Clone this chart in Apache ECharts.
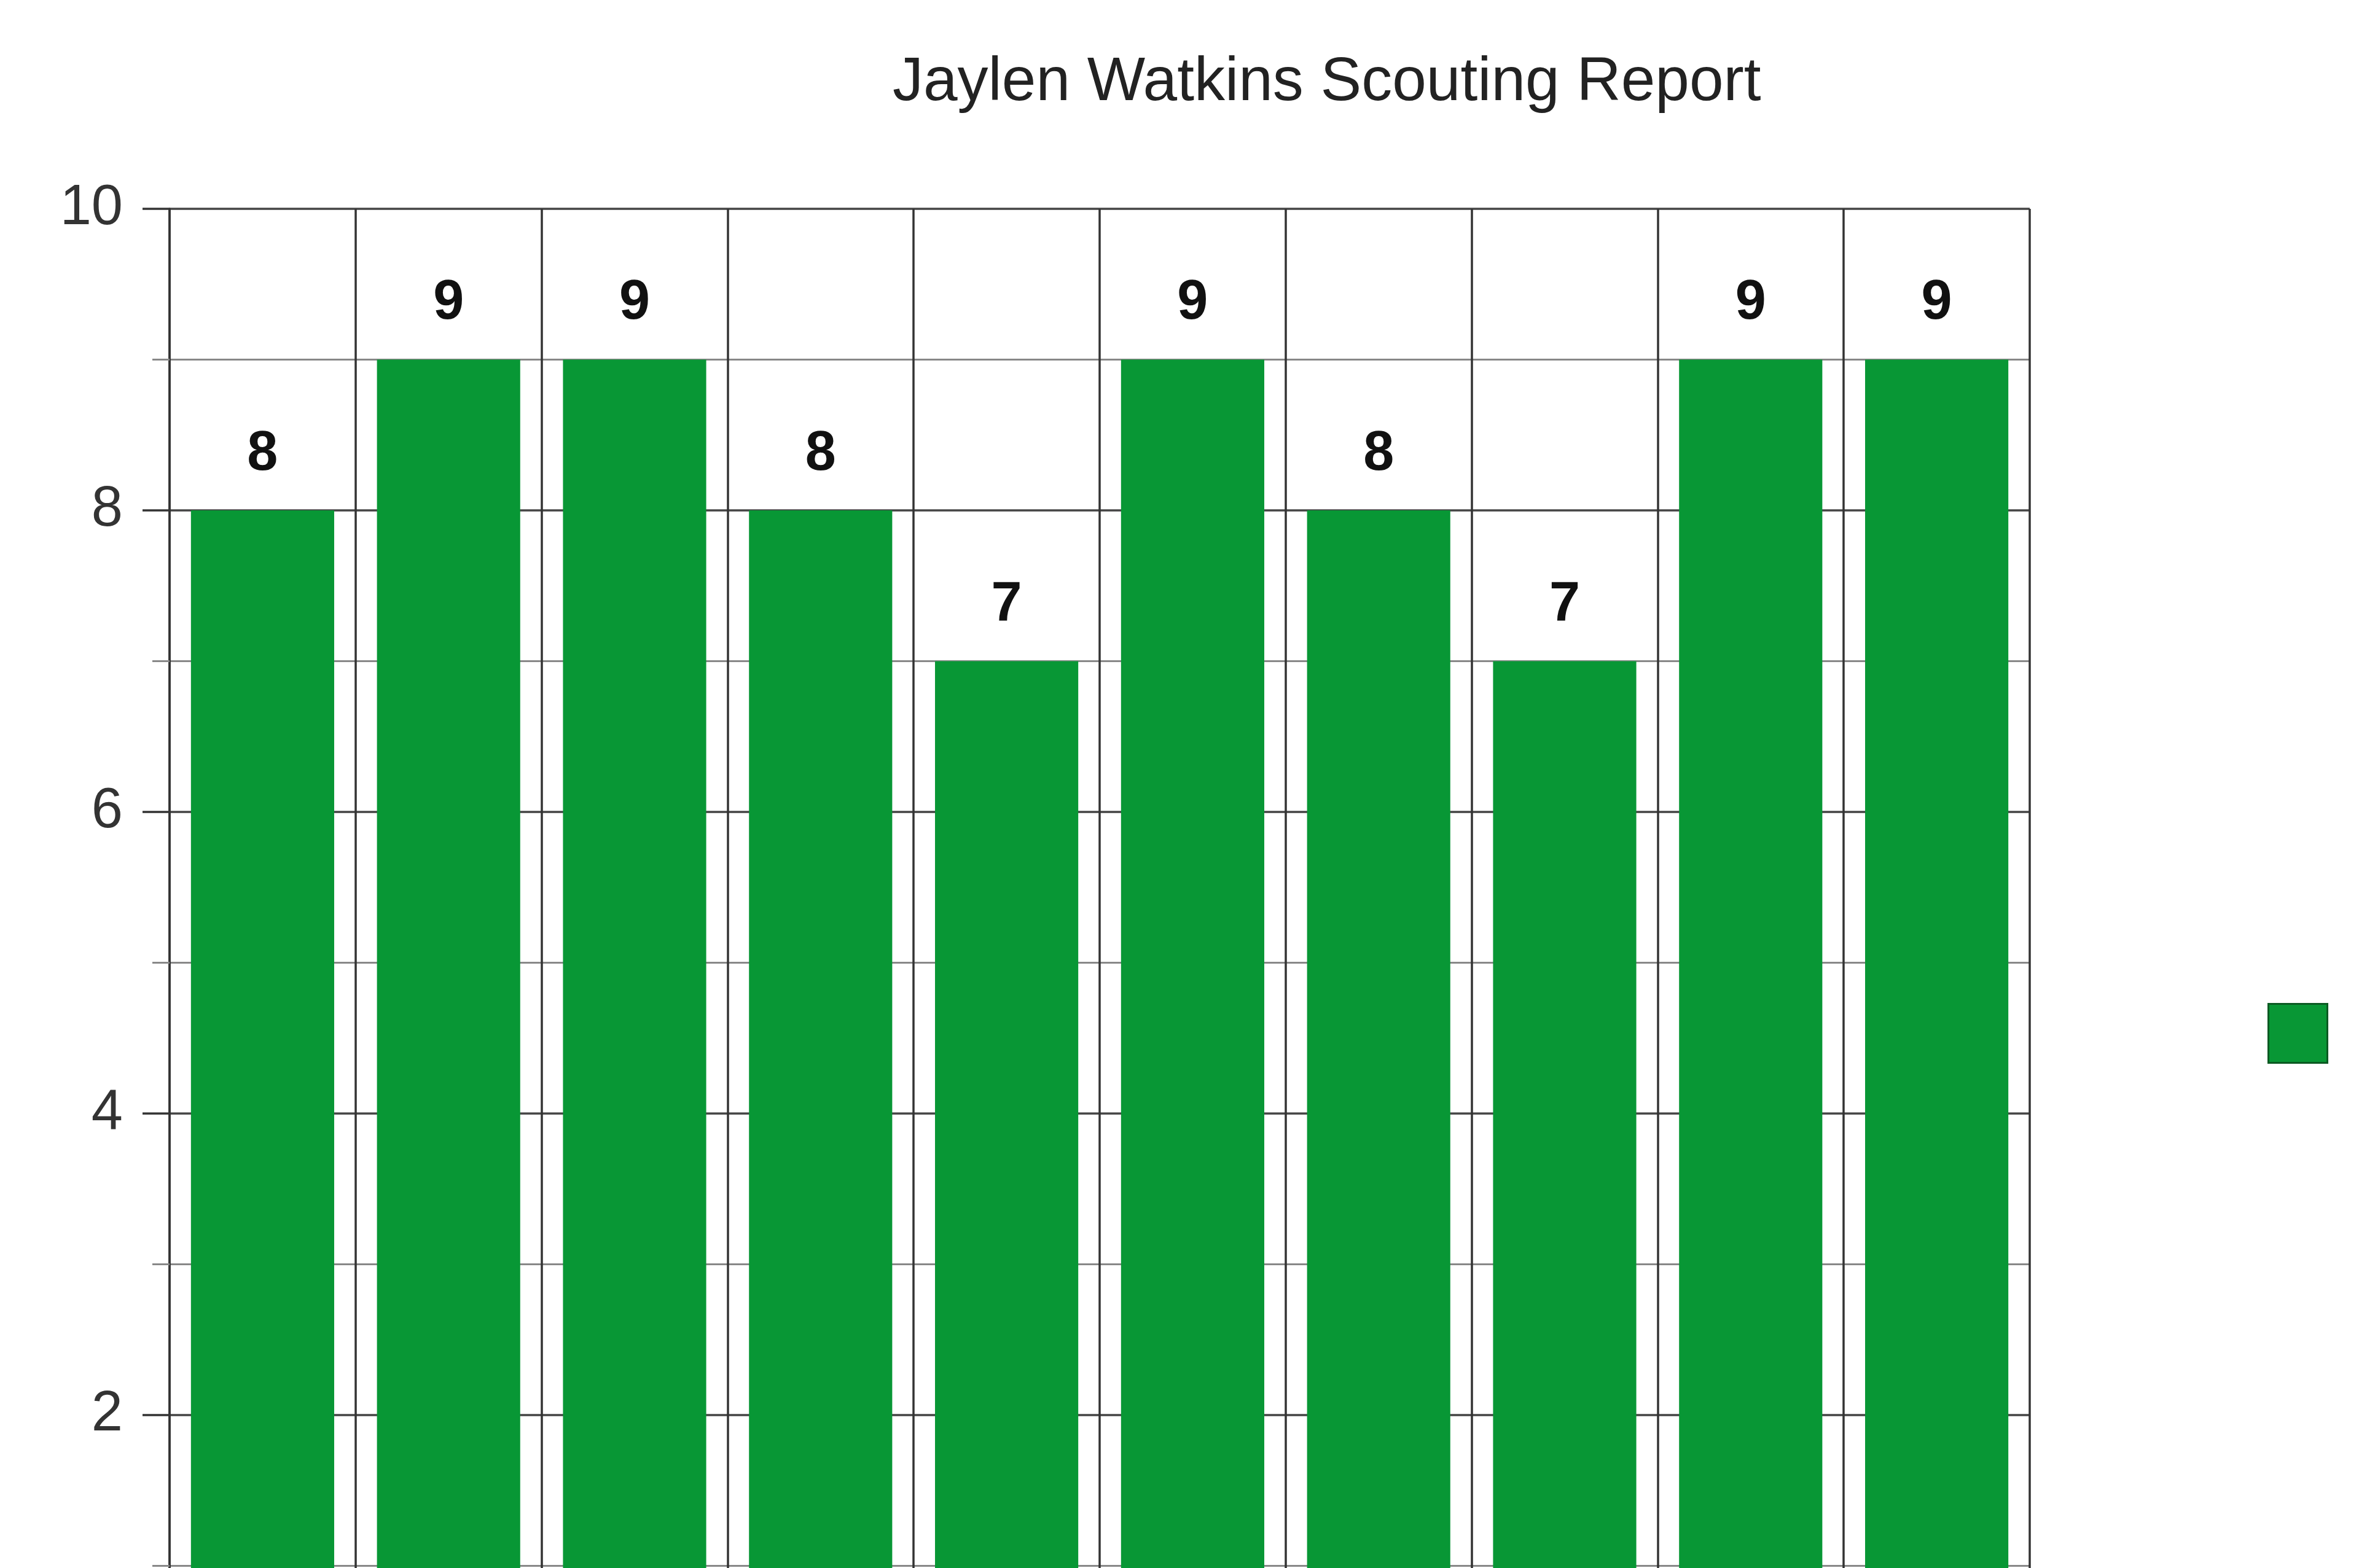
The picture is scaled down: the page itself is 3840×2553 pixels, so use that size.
<!DOCTYPE html>
<html>
<head>
<meta charset="utf-8">
<style>
  html, body { margin: 0; padding: 0; background: #ffffff; overflow: hidden; }
  #chart { width: 3840px; height: 2900px; }
</style>
<script src="https://cdn.jsdelivr.net/npm/echarts@6/dist/echarts.min.js"></script>
</head>
<body>
<div id="chart"></div>
<script>
const titleText = 'Jaylen Watkins Scouting Report';
const seriesName = 'Rating';
const categories = ['Trait 1', 'Trait 2', 'Trait 3', 'Trait 4', 'Trait 5', 'Trait 6', 'Trait 7', 'Trait 8', 'Trait 9', 'Trait 10'];
const ratings = [8, 9, 9, 8, 7, 9, 8, 7, 9, 9];
const yTicks = [0, 2, 4, 6, 8, 10];

const chart = echarts.init(document.getElementById('chart'), null, { renderer: 'canvas' });
chart.setOption({
  backgroundColor: '#ffffff',
  animation: false,
  title: {
    text: titleText,
    left: 1448,
    top: 80,
    textStyle: { fontFamily: 'Liberation Sans', fontSize: 100, fontWeight: 'normal', color: '#222222' }
  },
  legend: {
    left: 3686,
    top: 1628,
    itemWidth: 96,
    itemHeight: 96,
    icon: 'rect',
    formatter: function () { return ''; },
    itemStyle: { borderColor: '#0b5a22', borderWidth: 3 },
    data: [seriesName]
  },
  grid: { left: 276, top: 340, width: 3028, height: 2455, containLabel: false },
  xAxis: {
    type: 'category',
    data: categories,
    boundaryGap: true,
    axisLine: { show: true, lineStyle: { color: '#333333', width: 3.5 } },
    axisTick: { show: false },
    axisLabel: { show: false },
    splitLine: { show: true, lineStyle: { color: '#333333', width: 3.5 } }
  },
  yAxis: {
    type: 'value',
    min: yTicks[0],
    max: yTicks[yTicks.length - 1],
    interval: 2,
    axisLine: { show: true, lineStyle: { color: '#333333', width: 3.5 } },
    axisTick: { show: true, length: 44, lineStyle: { color: '#333333', width: 3.5 } },
    minorTick: { show: true, splitNumber: 2, length: 28, lineStyle: { color: '#888888', width: 3 } },
    axisLabel: { margin: 76, fontFamily: 'Liberation Sans', fontSize: 92, color: '#333333' },
    splitLine: { show: true, lineStyle: { color: '#444444', width: 3.5 } },
    minorSplitLine: { show: true, lineStyle: { color: '#888888', width: 3 } }
  },
  series: [{
    name: seriesName,
    type: 'bar',
    data: ratings,
    barCategoryGap: '23%',
    itemStyle: { color: '#089735' },
    label: {
      show: true,
      position: 'top',
      distance: 46,
      fontFamily: 'Liberation Sans',
      fontSize: 90,
      fontWeight: 'bold',
      color: '#111111'
    }
  }]
});
</script>
</body>
</html>
